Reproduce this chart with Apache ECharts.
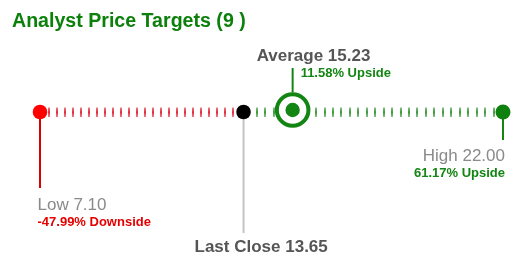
<!DOCTYPE html>
<html><head><meta charset="utf-8">
<script src="https://cdn.jsdelivr.net/npm/echarts@6/dist/echarts.min.js"></script>
<style>html,body{margin:0;padding:0;background:#fff}#c{width:530px;height:279px}</style>
</head><body><div id="c"></div>
<script>
// ---- data ----
const titleText = 'Analyst Price Targets (9 )';
const markerNames = ['Low', 'Last Close', 'Average', 'High'];
const markerValues = [7.10, 13.65, 15.23, 22.00];
const lastClose = 13.65;

// ---- rendering ----
const FONT = '"Liberation Sans", Arial, sans-serif';
const GREEN = '#138513';
const lowV = markerValues[0], highV = markerValues[3];
const segments = [[lowV, lastClose, 0], [lastClose, highV, 1]];

const segStyle = [
  {c: '222,45,65', pad1: 9.3, pad2: 10.3, step: 8.0},
  {c: '62,152,62', pad1: 13.5, pad2: 9.5, step: 8.43}
];

function pctText(v) {
  const p = (v / lastClose - 1) * 100;
  return p.toFixed(2) + '% ' + (p < 0 ? 'Downside' : 'Upside');
}

const markerStyle = {
  'Low': {dot: '#ff0000', r: 7.3, line: [0, 76], lineColor: '#dd0000',
    t1: {dx: -2.5, dy: 93.7, align: 'left', fs: 17, fw: 'normal', color: '#8a8a8a'},
    t2: {dx: -2.5, dy: 110.2, align: 'left', fs: 13, fw: 'bold', color: '#e60000'}},
  'Last Close': {dot: '#000000', r: 7.3, line: [0, 121], lineColor: '#c4c4c4',
    t1: {dx: -49, dy: 135.3, align: 'left', fs: 17, fw: 'bold', color: '#555555'}},
  'Average': {ring: true,
    t1: {dx: -36, dy: -56, align: 'left', fs: 17, fw: 'bold', color: '#555555'},
    t2: {dx: 8, dy: -38.2, align: 'left', fs: 13, fw: 'bold', color: GREEN}},
  'High': {dot: '#0e800e', r: 7.5, line: [0, 28], lineColor: GREEN,
    t1: {dx: 2, dy: 44, align: 'right', fs: 17, fw: 'normal', color: '#8a8a8a'},
    t2: {dx: 2, dy: 61.8, align: 'right', fs: 13, fw: 'bold', color: GREEN}}
};

function txt(x, y, s, st) {
  return {type: 'text', z2: 10, style: {text: s, x: x, y: y, fill: st.color,
    fontSize: st.fs, fontWeight: st.fw, fontFamily: FONT, align: st.align, verticalAlign: 'middle'}};
}

const chart = echarts.init(document.getElementById('c'), null, {renderer: 'canvas'});
chart.setOption({
  animation: false,
  backgroundColor: '#fff',
  title: {text: titleText, left: 12, top: 12, padding: 0,
    textStyle: {color: '#0b800b', fontSize: 19.6, fontWeight: 'bold', fontFamily: FONT}},
  grid: {left: 40, right: 27, top: 40, bottom: 167},
  xAxis: {type: 'value', min: lowV, max: highV, show: false},
  yAxis: {type: 'value', min: 0, max: 1, show: false},
  series: [
    {
      type: 'custom', clip: false, z: 1,
      data: segments,
      renderItem: function (params, api) {
        const a = api.coord([api.value(0), 0]);
        const b = api.coord([api.value(1), 0]);
        const st = segStyle[api.value(2)];
        const children = [];
        const x0 = a[0] + st.pad1, x1 = b[0] - st.pad2;
        const n = Math.round((x1 - x0) / st.step);
        const grad = new echarts.graphic.LinearGradient(0, 0, 0, 1, [
          {offset: 0, color: 'rgba(' + st.c + ',0.6)'},
          {offset: 0.5, color: 'rgba(' + st.c + ',1)'},
          {offset: 1, color: 'rgba(' + st.c + ',0.6)'}
        ]);
        for (let i = 0; i <= n; i++) {
          const x = Math.round(x0 + (x1 - x0) * i / n);
          children.push({type: 'rect', shape: {x: x - 1, y: a[1] - 4.5, width: 2, height: 9.5},
            style: {fill: grad}});
        }
        return {type: 'group', children: children};
      }
    },
    {
      type: 'custom', clip: false, z: 5,
      data: markerValues.map((v, i) => ({name: markerNames[i], value: [v, 0]})),
      renderItem: function (params, api) {
        const name = markerNames[params.dataIndex];
        const v = api.value(0);
        const p = api.coord([v, 0]);
        const ms = markerStyle[name];
        const ch = [];
        if (ms.ring) {
          const cy = p[1] - 2;
          ch.push({type: 'line', shape: {x1: p[0], y1: cy - 17.5, x2: p[0], y2: 68},
            style: {stroke: GREEN, lineWidth: 2}});
          ch.push({type: 'circle', shape: {cx: p[0], cy: cy, r: 15.8},
            style: {fill: '#fff', stroke: GREEN, lineWidth: 4}});
          ch.push({type: 'circle', shape: {cx: p[0], cy: cy, r: 7.2}, style: {fill: GREEN}});
        } else {
          ch.push({type: 'line', shape: {x1: p[0], y1: p[1] + ms.line[0], x2: p[0], y2: p[1] + ms.line[1]},
            style: {stroke: ms.lineColor, lineWidth: 2}});
          ch.push({type: 'circle', shape: {cx: p[0], cy: p[1], r: ms.r}, style: {fill: ms.dot}});
        }
        ch.push(txt(p[0] + ms.t1.dx, p[1] + ms.t1.dy, name + ' ' + v.toFixed(2), ms.t1));
        if (ms.t2) ch.push(txt(p[0] + ms.t2.dx, p[1] + ms.t2.dy, pctText(v), ms.t2));
        return {type: 'group', children: ch};
      }
    }
  ]
});
</script></body></html>
